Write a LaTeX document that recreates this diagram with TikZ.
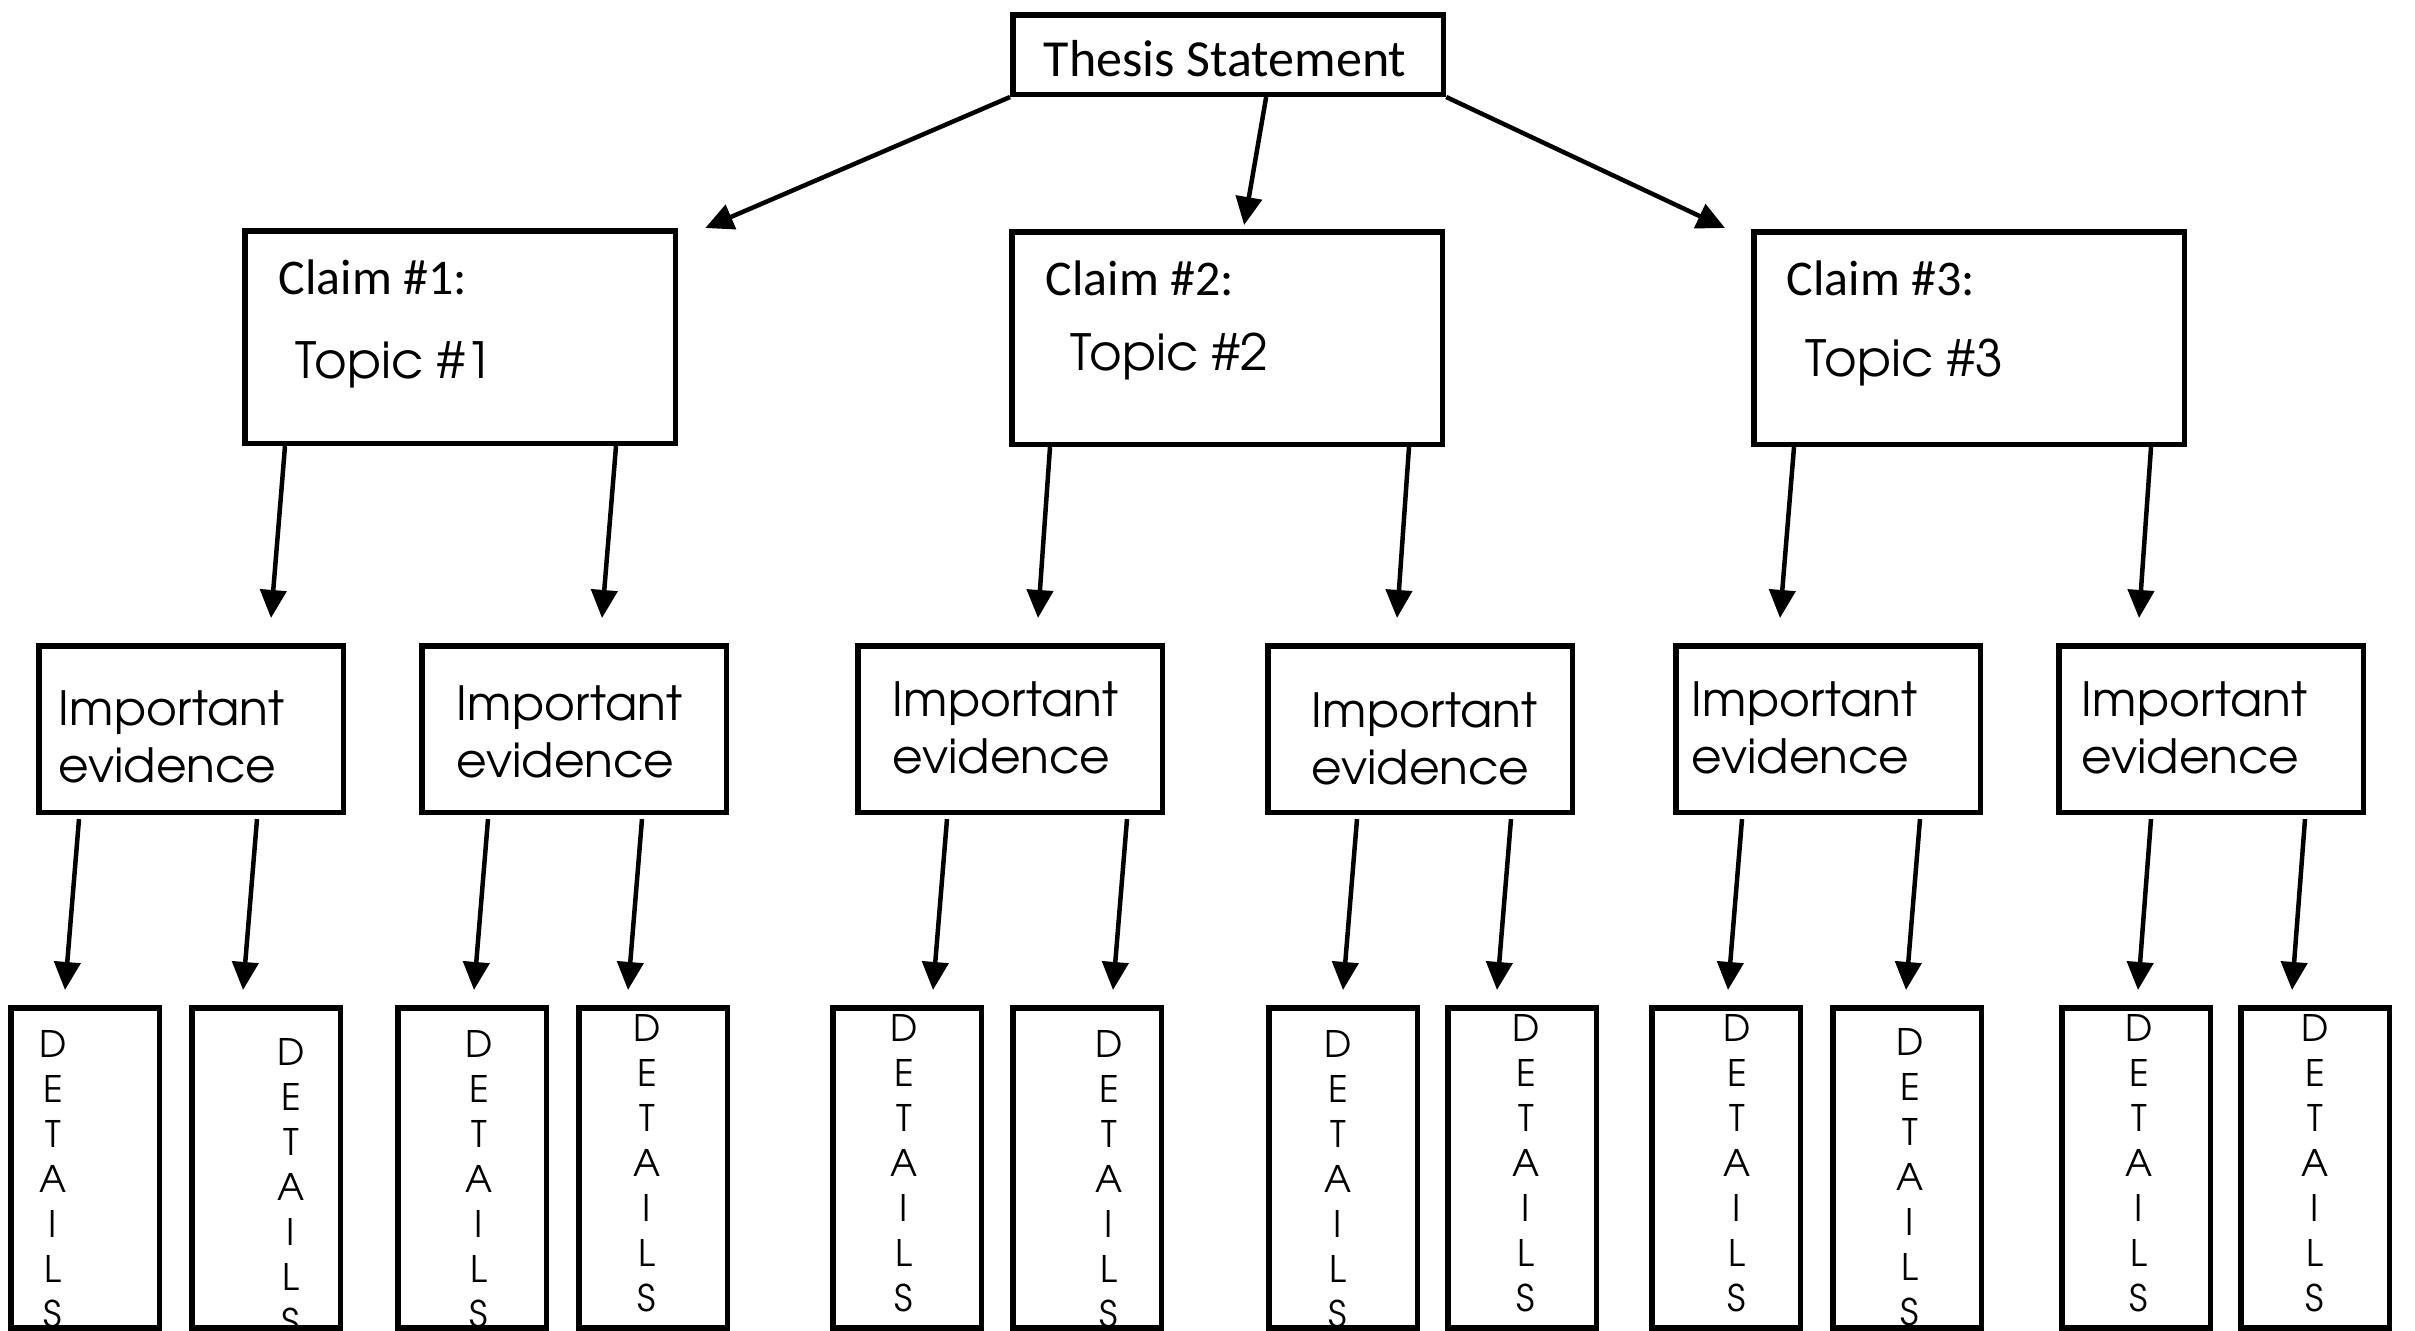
\documentclass[tikz,border=0pt]{standalone}
\usepackage{fontspec}
\setmainfont{Carlito}
\newfontfamily\gothic{texgyreadventor-regular.otf}
\usetikzlibrary{arrows.meta}
\begin{document}
\begin{tikzpicture}[x=0.01cm,y=-0.01cm,
  box/.style={draw, rectangle, line width=0.055cm, inner sep=0, outer sep=0.0275cm},
  thesisbox/.style={box, minimum width=4.305cm, minimum height=0.795cm},
  claimbox/.style={box, minimum width=4.305cm, minimum height=2.125cm},
  evbox/.style={box, minimum width=3.045cm, minimum height=1.665cm},
  detbox/.style={box, minimum width=1.485cm, minimum height=3.20cm},
  cali/.style={inner sep=0, anchor=base west, font=\fontsize{14.2pt}{17pt}\selectfont},
  topictext/.style={inner sep=0, anchor=base west, font=\gothic\fontsize{14.2pt}{17pt}\selectfont},
  evtext/.style={inner sep=0, anchor=north west, align=left, font=\gothic\fontsize{13.4pt}{16.2pt}\selectfont},
  dettext/.style={inner sep=0, anchor=north, align=center, font=\gothic\fontsize{10.4pt}{12.8pt}\selectfont},
  arr/.style={-{Triangle[length=0.28cm 0, width=0.26cm 0]}, line width=0.045cm}
]
\useasboundingbox (0,0) rectangle (2415,1330);

% details texts (drawn first so the box borders lie over them)
\node[dettext] (d1t) at (53,1030) {D\\E\\T\\A\\I\\L\\S};
\node[dettext] (d2t) at (291,1038) {D\\E\\T\\A\\I\\L\\S};
\node[dettext] (d3t) at (479,1030) {D\\E\\T\\A\\I\\L\\S};
\node[dettext] (d4t) at (647,1014) {D\\E\\T\\A\\I\\L\\S};
\node[dettext] (d5t) at (904,1014) {D\\E\\T\\A\\I\\L\\S};
\node[dettext] (d6t) at (1109,1030) {D\\E\\T\\A\\I\\L\\S};
\node[dettext] (d7t) at (1338,1030) {D\\E\\T\\A\\I\\L\\S};
\node[dettext] (d8t) at (1526,1014) {D\\E\\T\\A\\I\\L\\S};
\node[dettext] (d9t) at (1737,1014) {D\\E\\T\\A\\I\\L\\S};
\node[dettext] (d10t) at (1910,1028) {D\\E\\T\\A\\I\\L\\S};
\node[dettext] (d11t) at (2139,1014) {D\\E\\T\\A\\I\\L\\S};
\node[dettext] (d12t) at (2315,1014) {D\\E\\T\\A\\I\\L\\S};

% boxes
\node[thesisbox, anchor=north west] (t) at (1010,12) {};
\node[claimbox, anchor=north west] (c1) at (242,228) {};
\node[claimbox, anchor=north west] (c2) at (1009,229) {};
\node[claimbox, anchor=north west] (c3) at (1751,229) {};
\node[evbox, anchor=north west] (e1) at (36,643) {};
\node[evbox, anchor=north west] (e2) at (419,643) {};
\node[evbox, anchor=north west] (e3) at (855,643) {};
\node[evbox, anchor=north west] (e4) at (1265,643) {};
\node[evbox, anchor=north west] (e5) at (1673,643) {};
\node[evbox, anchor=north west] (e6) at (2056,643) {};
\node[detbox, anchor=north west] (d1) at (8,1005) {};
\node[detbox, anchor=north west] (d2) at (189,1005) {};
\node[detbox, anchor=north west] (d3) at (395,1005) {};
\node[detbox, anchor=north west] (d4) at (576,1005) {};
\node[detbox, anchor=north west] (d5) at (830,1005) {};
\node[detbox, anchor=north west] (d6) at (1010,1005) {};
\node[detbox, anchor=north west] (d7) at (1266,1005) {};
\node[detbox, anchor=north west] (d8) at (1445,1005) {};
\node[detbox, anchor=north west] (d9) at (1649,1005) {};
\node[detbox, anchor=north west] (d10) at (1830,1005) {};
\node[detbox, anchor=north west] (d11) at (2059,1005) {};
\node[detbox, anchor=north west] (d12) at (2238,1005) {};

% texts
\node[cali, font=\fontsize{14.8pt}{17pt}\selectfont] (tt) at (1043,77) {Thesis Statement};
\node[cali] (c1a) at (278,294) {Claim \#1:};
\node[topictext] (c1b) at (295,378) {Topic \#1};
\node[cali] (c2a) at (1045,295) {Claim \#2:};
\node[topictext] (c2b) at (1070,370) {Topic \#2};
\node[cali] (c3a) at (1786,295) {Claim \#3:};
\node[topictext] (c3b) at (1805,376) {Topic \#3};
\node[evtext] (e1t) at (58,690) {Important\\evidence};
\node[evtext] (e2t) at (456,685) {Important\\evidence};
\node[evtext] (e3t) at (892,681) {Important\\evidence};
\node[evtext] (e4t) at (1311,692) {Important\\evidence};
\node[evtext] (e5t) at (1691,681) {Important\\evidence};
\node[evtext] (e6t) at (2081,681) {Important\\evidence};

% arrow tips (free ends)
\coordinate (tc1) at ([shift={(27,0)}]c1.north east);
\coordinate (tc2) at ([shift={(17,-4)}]c2.north);
\coordinate (tc3) at ([shift={(-26,-1)}]c3.north west);
\coordinate (te1) at ([shift={(235,-25)}]e1.north west);
\coordinate (te2) at ([shift={(183,-25)}]e2.north west);
\coordinate (te3) at ([shift={(183,-25)}]e3.north west);
\coordinate (te4) at ([shift={(132,-25)}]e4.north west);
\coordinate (te5) at ([shift={(107,-25)}]e5.north west);
\coordinate (te6) at ([shift={(83,-25)}]e6.north west);
\coordinate (td1) at ([shift={(57,-15)}]d1.north west);
\coordinate (td2) at ([shift={(54,-15)}]d2.north west);
\coordinate (td3) at ([shift={(79,-15)}]d3.north west);
\coordinate (td4) at ([shift={(52,-15)}]d4.north west);
\coordinate (td5) at ([shift={(103,-15)}]d5.north west);
\coordinate (td6) at ([shift={(103,-15)}]d6.north west);
\coordinate (td7) at ([shift={(77,-15)}]d7.north west);
\coordinate (td8) at ([shift={(52,-15)}]d8.north west);
\coordinate (td9) at ([shift={(79,-15)}]d9.north west);
\coordinate (td10) at ([shift={(76,-15)}]d10.north west);
\coordinate (td11) at ([shift={(79,-15)}]d11.north west);
\coordinate (td12) at ([shift={(54,-15)}]d12.north west);

% connectors
\draw[arr] (t.south west) -- (tc1);
\draw[arr] ([xshift=0.38cm]t.south) -- (tc2);
\draw[arr] (t.south east) -- (tc3);

\draw[arr] ([shift={(43,0)}]c1.south west) -- (te1);
\draw[arr] ([shift={(374,0)}]c1.south west) -- (te2);
\draw[arr] ([shift={(41,0)}]c2.south west) -- (te3);
\draw[arr] ([shift={(400,0)}]c2.south west) -- (te4);
\draw[arr] ([shift={(43,0)}]c3.south west) -- (te5);
\draw[arr] ([shift={(400,0)}]c3.south west) -- (te6);

\draw[arr] ([shift={(43,4)}]e1.south west) -- (td1);
\draw[arr] ([shift={(221,4)}]e1.south west) -- (td2);
\draw[arr] ([shift={(69,4)}]e2.south west) -- (td3);
\draw[arr] ([shift={(223,4)}]e2.south west) -- (td4);
\draw[arr] ([shift={(92,4)}]e3.south west) -- (td5);
\draw[arr] ([shift={(272,4)}]e3.south west) -- (td6);
\draw[arr] ([shift={(92,4)}]e4.south west) -- (td7);
\draw[arr] ([shift={(246,4)}]e4.south west) -- (td8);
\draw[arr] ([shift={(69,4)}]e5.south west) -- (td9);
\draw[arr] ([shift={(247,4)}]e5.south west) -- (td10);
\draw[arr] ([shift={(95,4)}]e6.south west) -- (td11);
\draw[arr] ([shift={(249,4)}]e6.south west) -- (td12);
\end{tikzpicture}
\end{document}
